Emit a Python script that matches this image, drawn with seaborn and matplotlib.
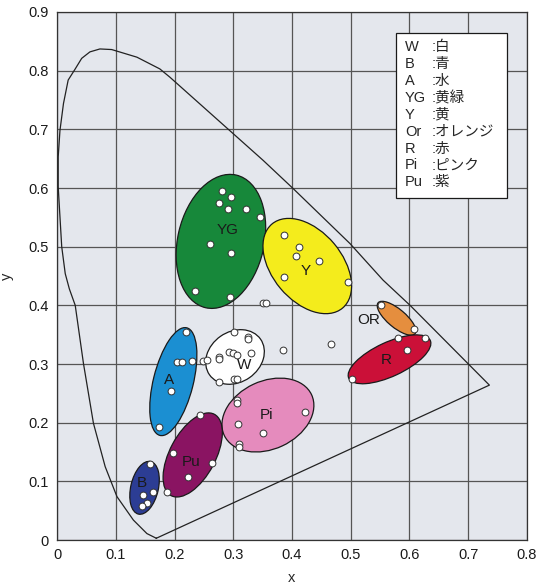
import matplotlib
matplotlib.use("Agg")
import matplotlib.pyplot as plt
from matplotlib.patches import Ellipse, Rectangle
from matplotlib.ticker import FuncFormatter, MultipleLocator
import seaborn as sns
import pandas as pd

sns.set_style("white")
plt.rcParams['font.family'] = ['Liberation Sans', 'Noto Sans CJK JP', 'DejaVu Sans']

# spectral locus outline (x, y)
locus_x = [0.169, 0.153, 0.130, 0.102, 0.082, 0.062, 0.045, 0.031, 0.021, 0.014,
           0.008, 0.005, 0.002, 0.002, 0.005, 0.011, 0.019, 0.031, 0.042, 0.056,
           0.073, 0.093, 0.136, 0.175, 0.192, 0.351, 0.402, 0.499, 0.555, 0.601,
           0.736, 0.169]
locus_y = [0.003, 0.011, 0.034, 0.074, 0.125, 0.199, 0.301, 0.400, 0.428, 0.454,
           0.500, 0.551, 0.602, 0.653, 0.698, 0.744, 0.784, 0.803, 0.821, 0.832,
           0.837, 0.836, 0.823, 0.803, 0.789, 0.647, 0.599, 0.505, 0.443, 0.400,
           0.264, 0.003]

# colour category regions
cat_codes = ['YG', 'Y', 'A', 'W', 'Pi', 'Pu', 'B', 'OR', 'R']
centre_x = [0.279, 0.426, 0.198, 0.303, 0.359, 0.231, 0.149, 0.578, 0.566]
centre_y = [0.509, 0.467, 0.270, 0.312, 0.213, 0.145, 0.089, 0.378, 0.308]
ell_major = [0.232, 0.187, 0.189, 0.106, 0.164, 0.157, 0.092, 0.082, 0.153]
ell_minor = [0.147, 0.119, 0.068, 0.086, 0.116, 0.078, 0.047, 0.031, 0.058]
ell_angle = [77, -50, 76, 35, 25, 62, 77, -40, 25]
ell_colors = ['#17883a', '#f4ec1c', '#1b8fd2', '#ffffff', '#e58bbd',
              '#8a1462', '#2c3d94', '#e58e3e', '#cb1038']
label_x = [0.291, 0.423, 0.191, 0.318, 0.357, 0.228, 0.144, 0.530, 0.561]
label_y = [0.528, 0.458, 0.273, 0.298, 0.213, 0.133, 0.097, 0.375, 0.307]

# measured samples
point_x = [0.280, 0.296, 0.276, 0.291, 0.321, 0.346, 0.260, 0.296, 0.235, 0.295, 0.351, 0.356,
           0.386, 0.412, 0.406, 0.446, 0.386, 0.496,
           0.220, 0.204, 0.213, 0.229, 0.194, 0.174, 0.248, 0.255,
           0.301, 0.325, 0.325, 0.275, 0.275, 0.293, 0.300, 0.306, 0.330, 0.275, 0.301, 0.306,
           0.385, 0.466,
           0.306, 0.306, 0.422, 0.308, 0.350, 0.310, 0.310,
           0.243, 0.198, 0.264, 0.223, 0.188,
           0.159, 0.164, 0.147, 0.153, 0.144,
           0.551, 0.607,
           0.581, 0.626, 0.595, 0.502]
point_y = [0.595, 0.585, 0.575, 0.564, 0.564, 0.550, 0.504, 0.489, 0.424, 0.414, 0.404, 0.404,
           0.520, 0.499, 0.484, 0.475, 0.449, 0.440,
           0.354, 0.304, 0.304, 0.305, 0.254, 0.193, 0.305, 0.307,
           0.354, 0.346, 0.342, 0.312, 0.308, 0.320, 0.318, 0.315, 0.319, 0.269, 0.274, 0.274,
           0.324, 0.334,
           0.239, 0.233, 0.219, 0.198, 0.183, 0.164, 0.159,
           0.213, 0.148, 0.132, 0.108, 0.082,
           0.129, 0.082, 0.077, 0.0625, 0.058,
           0.400, 0.359,
           0.344, 0.344, 0.324, 0.274]

legend_codes = ['W', 'B', 'A', 'YG', 'Y', 'Or', 'R', 'Pi', 'Pu']
legend_names = ['白', '青', '水', '黄緑', '黄', 'オレンジ', '赤', 'ピンク', '紫']

fig = plt.figure(figsize=(5.43, 5.88), dpi=100)
ax = fig.add_axes([0.105, 0.0816, 0.8655, 0.898])
ax.set_facecolor('#e4e7ed')

locus = pd.DataFrame({'x': locus_x, 'y': locus_y})
sns.lineplot(data=locus, x='x', y='y', sort=False, estimator=None,
             color='#222222', lw=0.9, ax=ax, zorder=3)

for i, code in enumerate(cat_codes):
    ax.add_patch(Ellipse((centre_x[i], centre_y[i]), ell_major[i], ell_minor[i],
                         angle=ell_angle[i], facecolor=ell_colors[i],
                         edgecolor='#1a1a1a', lw=0.9, zorder=4))
    ax.text(label_x[i], label_y[i], code, ha='center', va='center',
            fontsize=11, color='#1a1a1a', zorder=6)

pts = pd.DataFrame({'x': point_x, 'y': point_y})
sns.scatterplot(data=pts, x='x', y='y', s=24, color='white',
                edgecolor='#333333', linewidth=0.7, ax=ax, zorder=5)

# legend box
ax.add_patch(Rectangle((0.577, 0.583), 0.189, 0.281, facecolor='white',
                       edgecolor='#1a1a1a', lw=0.9, zorder=6))
for i, (c, n) in enumerate(zip(legend_codes, legend_names)):
    yy = 0.840 - i * 0.0288
    ax.text(0.592, yy, c, ha='left', va='center', fontsize=10.5, zorder=7)
    ax.text(0.638, yy, ':' + n, ha='left', va='center', fontsize=10.5, zorder=7)

ax.set_xlim(0, 0.8)
ax.set_ylim(0, 0.9)
ax.xaxis.set_major_locator(MultipleLocator(0.1))
ax.yaxis.set_major_locator(MultipleLocator(0.1))
fmt = FuncFormatter(lambda v, p: '0' if abs(v) < 1e-9 else f'{v:.1f}')
ax.xaxis.set_major_formatter(fmt)
ax.yaxis.set_major_formatter(fmt)
ax.grid(True, color='#555555', lw=0.9, zorder=1)
ax.set_axisbelow(True)
ax.tick_params(length=0, labelsize=10.5, pad=6, colors='#1a1a1a')
for s in ax.spines.values():
    s.set_color('#333333')
    s.set_linewidth(0.9)
ax.set_xlabel('x', fontsize=10.5, labelpad=6)
ax.set_ylabel('y', fontsize=10.5, labelpad=10)

fig.savefig('out.png', dpi=100)
